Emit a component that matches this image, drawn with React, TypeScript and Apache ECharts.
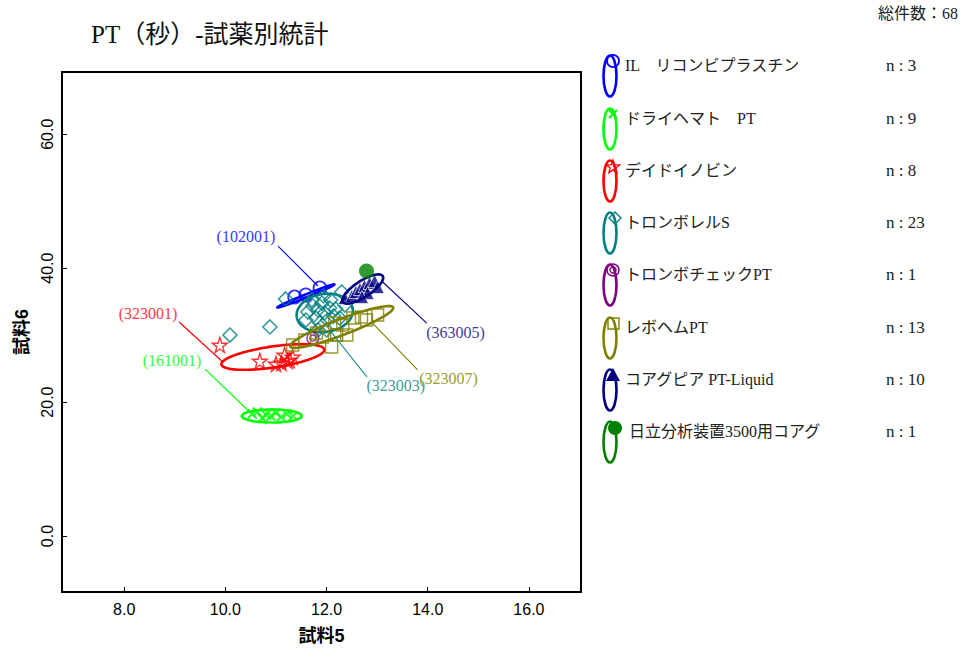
import React, { useEffect, useRef } from "react";
import * as echarts from "echarts";

const groupNames = [
  "IL　リコンビプラスチン",
  "ドライヘマト　PT",
  "デイドイノビン",
  "トロンボレルS",
  "トロンボチェックPT",
  "レボヘムPT",
  "コアグピア PT-Liquid",
  "日立分析装置3500用コアグ",
];
const groupCounts = [3, 9, 8, 23, 1, 13, 10, 1];
const groupColors = ["#0000ff", "#00ff00", "#ff0000", "#008080", "#800080", "#808000", "#000080", "#008000"];

const ilPoints = [[11.37, 35.7], [11.59, 36.0], [11.87, 37.04]];
const dryPoints = [
  [10.53, 18.22], [10.63, 18.52], [10.73, 17.63], [10.81, 18.07], [10.9, 17.93],
  [11.0, 18.37], [11.1, 17.77], [11.22, 18.22], [11.34, 17.93],
];
const dadePoints = [
  [9.89, 28.53], [10.68, 26.14], [11.0, 25.69], [11.17, 27.03],
  [11.23, 26.14], [11.11, 25.84], [11.27, 26.29], [11.33, 26.74],
];
const thromborelPoints = [
  [10.09, 30.02], [10.88, 31.22], [11.19, 35.4], [12.3, 36.45], [11.63, 33.46],
  [11.73, 34.35], [11.83, 33.76], [11.91, 34.8], [11.96, 33.31], [12.06, 34.06],
  [12.14, 32.86], [11.79, 32.56], [11.87, 31.81], [12.02, 32.26], [12.18, 33.91],
  [11.71, 35.25], [11.94, 35.85], [12.08, 35.25], [11.59, 32.26], [12.26, 32.56],
  [11.83, 30.77], [12.36, 34.5], [12.0, 30.77],
];
const thrombocheckPoints = [[11.73, 29.57]];
const levohemPoints = [
  [11.33, 28.53], [11.57, 29.28], [11.8, 30.32], [12.1, 28.23], [12.2, 30.02],
  [12.32, 31.52], [12.52, 32.56], [12.69, 32.71], [12.79, 32.26], [13.01, 33.01],
  [12.16, 31.81], [12.4, 30.02], [11.92, 29.72],
];
const coagpiaPoints = [
  [12.36, 35.55], [12.5, 35.85], [12.58, 36.45], [12.66, 36.89], [12.75, 37.34],
  [12.85, 37.79], [12.95, 38.09], [12.81, 36.3], [12.7, 35.7], [13.01, 37.19],
];
const hitachiPoints = [[12.79, 39.58]];

// ellipse: center x, center y, half-axis A (dx, dy), half-axis B (dx, dy) in data units
const ellipses: (number[] | null)[] = [
  [11.59, 35.85, 0.563, 1.718, 0.011, -0.21],
  [10.918, 17.92, 0.592, 0, 0, 0.97],
  [10.938, 26.74, 1.017, 1.12, 0.03, -1.553],
  [11.964, 33.31, 0.553, 0.597, 0.053, -2.81],
  null,
  [12.3, 31.22, 1.017, 2.913, 0.0559, -1.117],
  [12.715, 36.89, 0.395, 1.942, 0.086, -1.002],
  null,
];

const annotationTexts = ["(102001)", "(323001)", "(161001)", "(323003)", "(323007)", "(363005)"];
const annotationLabelColors = ["#3838ff", "#ff3b3b", "#33ff33", "#3a9c9c", "#9c9c33", "#3c3c9c"];
const annotationLineColors = ["#0000ff", "#ff0000", "#00ff00", "#008080", "#808000", "#000080"];
// text x, text y, line start x, y, line end x, y
const annotationData = [
  [10.405, 44.66, 11.04, 43.3, 11.83, 37.34],
  [8.47, 33.3, 9.085, 31.96, 9.95, 25.99],
  [8.944, 26.14, 9.6, 24.94, 10.48, 18.52],
  [13.37, 22.55, 12.8, 23.75, 12.06, 30.77],
  [14.41, 23.6, 13.8, 24.8, 12.89, 31.96],
  [14.55, 30.47, 13.98, 31.8, 13.11, 37.94],
];

const xTicks = [8, 10, 12, 14, 16];
const yTicks = [0, 20, 40, 60];

const SERIF = "'Liberation Serif', 'Noto Sans CJK JP', serif";
const SANS = "'Liberation Sans', 'Noto Sans CJK JP', sans-serif";

const starPath =
  "path://M50,0L61.8,35.1L98.1,35.1L68.8,56.7L79.4,91L50,70L20.6,91L31.2,56.7L1.9,35.1L38.2,35.1Z";
const crossPath = "path://M0,0L10,10M10,0L0,10";
const diamondPath = "path://M5,0L10,5L5,10L0,5Z";
const doubleCirclePath =
  "path://M0,-10A10,10,0,1,1,0,10A10,10,0,1,1,0,-10ZM0,-5A5,5,0,1,1,0,5A5,5,0,1,1,0,-5Z";

const pointSets = [ilPoints, dryPoints, dadePoints, thromborelPoints, thrombocheckPoints, levohemPoints, coagpiaPoints, hitachiPoints];

function scatterFor(i: number): any {
  const c = groupColors[i];
  const hollow = { color: "rgba(0,0,0,0)", borderColor: c, borderWidth: 1.4 };
  const base: any = { type: "scatter", name: groupNames[i], data: pointSets[i], z: 2 + i * 2 };
  switch (i) {
    case 0:
      return { ...base, symbol: "circle", symbolSize: 13, itemStyle: { ...hollow, borderWidth: 1.8 } };
    case 1:
      return { ...base, symbol: crossPath, symbolSize: 9, itemStyle: { ...hollow, borderWidth: 2.2 } };
    case 2:
      return { ...base, symbol: starPath, symbolSize: 15, itemStyle: hollow };
    case 3:
      return { ...base, symbol: diamondPath, symbolSize: 14, itemStyle: { ...hollow, borderWidth: 1.6 } };
    case 4:
      return { ...base, symbol: doubleCirclePath, symbolSize: 12, itemStyle: hollow };
    case 5:
      return { ...base, symbol: "rect", symbolSize: 12, itemStyle: hollow };
    case 6:
      return { ...base, symbol: "triangle", symbolSize: 13, itemStyle: { color: c, borderColor: "#ffffff", borderWidth: 0.8 } };
    default:
      return { ...base, symbol: "circle", symbolSize: 15, itemStyle: { color: c } };
  }
}

function ellipseFor(i: number): any | null {
  const e = ellipses[i];
  if (!e) return null;
  const color = groupColors[i];
  return {
    type: "custom",
    name: groupNames[i] + "-ellipse",
    data: [e],
    encode: { x: 0, y: 1 },
    z: 3 + i * 2,
    silent: true,
    renderItem: (_p: any, api: any) => {
      const cx = api.value(0), cy = api.value(1);
      const ax = api.value(2), ay = api.value(3), bx = api.value(4), by = api.value(5);
      const pts: number[][] = [];
      for (let k = 0; k < 90; k++) {
        const t = (k / 90) * Math.PI * 2;
        const c = Math.cos(t), s = Math.sin(t);
        pts.push(api.coord([cx + ax * c + bx * s, cy + ay * c + by * s]));
      }
      return {
        type: "polygon",
        shape: { points: pts },
        style: { fill: "none", stroke: color, lineWidth: 2.6 },
      };
    },
  };
}

function legendGraphics(): any[] {
  const els: any[] = [];
  const rowY = [65, 118, 170, 222, 274, 327, 379, 431];
  rowY.forEach((y, i) => {
    const c = groupColors[i];
    els.push({
      type: "ellipse",
      shape: { cx: 610, cy: y + 11, rx: 6.5, ry: 20.5 },
      style: { fill: "none", stroke: c, lineWidth: 2.6 },
    });
    const mx = 613, my = y - 4;
    if (i === 0) {
      els.push({ type: "circle", shape: { cx: mx, cy: my, r: 6 }, style: { fill: "none", stroke: c, lineWidth: 1.8 } });
    } else if (i === 1) {
      els.push({ type: "line", shape: { x1: mx - 4, y1: my - 4, x2: mx + 4, y2: my + 4 }, style: { stroke: c, lineWidth: 2 } });
      els.push({ type: "line", shape: { x1: mx + 4, y1: my - 4, x2: mx - 4, y2: my + 4 }, style: { stroke: c, lineWidth: 2 } });
    } else if (i === 2) {
      const pts: number[][] = [];
      for (let k = 0; k < 10; k++) {
        const r = k % 2 === 0 ? 7 : 2.9;
        const a = -Math.PI / 2 + (k * Math.PI) / 5;
        pts.push([mx + r * Math.cos(a), my + 1 + r * Math.sin(a)]);
      }
      els.push({ type: "polygon", shape: { points: pts }, style: { fill: "none", stroke: c, lineWidth: 1.3 } });
    } else if (i === 3) {
      els.push({
        type: "polygon",
        shape: { points: [[mx + 2, my - 6], [mx + 8, my], [mx + 2, my + 6], [mx - 4, my]] },
        style: { fill: "none", stroke: c, lineWidth: 1.4 },
      });
    } else if (i === 4) {
      els.push({ type: "circle", shape: { cx: mx, cy: my, r: 6 }, style: { fill: "none", stroke: c, lineWidth: 1.4 } });
      els.push({ type: "circle", shape: { cx: mx, cy: my, r: 3 }, style: { fill: "none", stroke: c, lineWidth: 1.4 } });
    } else if (i === 5) {
      els.push({ type: "rect", shape: { x: mx - 5, y: my - 5, width: 11, height: 11 }, style: { fill: "none", stroke: c, lineWidth: 1.4 } });
    } else if (i === 6) {
      els.push({
        type: "polygon",
        shape: { points: [[mx, my - 7], [mx + 7, my + 6], [mx - 7, my + 6]] },
        style: { fill: c },
      });
    } else {
      els.push({ type: "circle", shape: { cx: mx + 2, cy: my + 1, r: 7 }, style: { fill: c } });
    }
    els.push({
      type: "text",
      x: i === 7 ? 629 : 625,
      y: y,
      style: { text: groupNames[i], font: `16px ${SERIF}`, fill: "#222", textVerticalAlign: "middle", verticalAlign: "middle" },
    });
    els.push({
      type: "text",
      x: 886,
      y: y,
      style: { text: `n : ${groupCounts[i]}`, font: `17px ${SERIF}`, fill: "#222", textVerticalAlign: "middle", verticalAlign: "middle" },
    });
  });
  els.push({
    type: "text",
    right: 4,
    top: 5,
    style: { text: "総件数：68", font: `16px ${SERIF}`, fill: "#222" },
  });
  return els;
}

export default function App() {
  const ref = useRef<HTMLDivElement>(null);
  useEffect(() => {
    if (!ref.current) return;
    const chart = echarts.init(ref.current, null, { renderer: "svg" });
    const series: any[] = [];
    for (let i = 0; i < groupNames.length; i++) {
      series.push(scatterFor(i));
      const el = ellipseFor(i);
      if (el) series.push(el);
    }
    series.push({
      type: "custom",
      name: "annotations",
      data: annotationData,
      encode: { x: 0, y: 1 },
      z: 30,
      silent: true,
      renderItem: (params: any, api: any) => {
        const idx = params.dataIndex;
        const t = api.coord([api.value(0), api.value(1)]);
        const p1 = api.coord([api.value(2), api.value(3)]);
        const p2 = api.coord([api.value(4), api.value(5)]);
        return {
          type: "group",
          children: [
            {
              type: "line",
              shape: { x1: p1[0], y1: p1[1], x2: p2[0], y2: p2[1] },
              style: { stroke: annotationLineColors[idx], lineWidth: 1.1 },
            },
            {
              type: "text",
              style: {
                text: annotationTexts[idx],
                x: t[0],
                y: t[1],
                fill: annotationLabelColors[idx],
                font: `16px ${SERIF}`,
                align: "center",
                verticalAlign: "middle",
              },
            },
          ],
        };
      },
    });

    chart.setOption({
      animation: false,
      backgroundColor: "#ffffff",
      title: {
        text: "PT（秒）-試薬別統計",
        left: 86,
        top: 17,
        textStyle: { fontSize: 25, fontWeight: "normal", color: "#111", fontFamily: SERIF },
      },
      grid: {
        left: 62,
        top: 72,
        width: 519,
        height: 520,
        show: true,
        borderColor: "#000",
        borderWidth: 2,
        outerBoundsMode: "none",
        containLabel: false,
      },
      xAxis: {
        type: "value",
        min: 6.77,
        max: 17.03,
        name: "試料5",
        nameLocation: "middle",
        nameGap: 35,
        nameTextStyle: { fontSize: 18, fontWeight: "bold", color: "#000", fontFamily: SANS },
        axisLine: { show: true, onZero: false, lineStyle: { color: "#000", width: 2 } },
        axisTick: { show: true, inside: true, length: 5, customValues: xTicks, lineStyle: { color: "#000" } },
        axisLabel: {
          customValues: xTicks,
          formatter: (v: number) => v.toFixed(1),
          color: "#000",
          fontSize: 16,
          fontFamily: SANS,
          margin: 9,
        },
        splitLine: { show: false },
      },
      yAxis: {
        type: "value",
        min: -8.36,
        max: 69.3,
        name: "試料6",
        nameLocation: "middle",
        nameGap: 31,
        nameRotate: 90,
        nameTextStyle: { fontSize: 18, fontWeight: "bold", color: "#000", fontFamily: SANS },
        axisLine: { show: true, onZero: false, lineStyle: { color: "#000", width: 2 } },
        axisTick: { show: true, inside: true, length: 5, customValues: yTicks, lineStyle: { color: "#000" } },
        axisLabel: {
          customValues: yTicks,
          formatter: (v: number) => v.toFixed(1),
          color: "#000",
          fontSize: 16,
          fontFamily: SANS,
          rotate: 90,
          margin: 7,
        },
        splitLine: { show: false },
      },
      graphic: legendGraphics(),
      series,
    });
    return () => chart.dispose();
  }, []);
  return <div ref={ref} style={{ position: "fixed", left: 0, top: 0, width: 962, height: 653 }} />;
}
